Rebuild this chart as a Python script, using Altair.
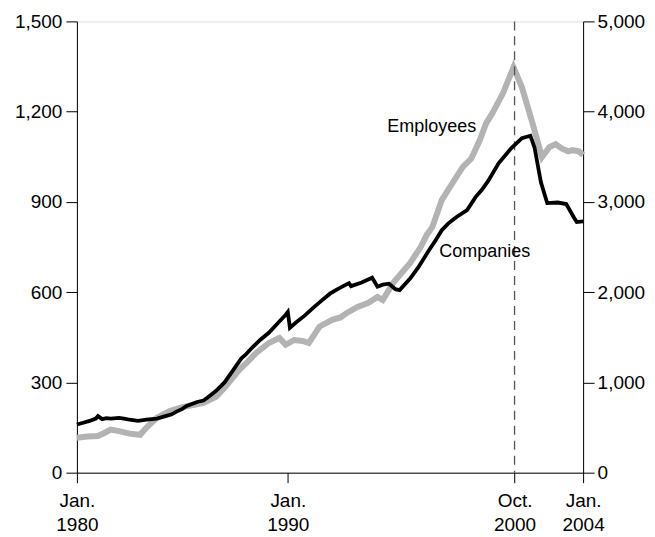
import altair as alt
import pandas as pd

# Companies (left axis, 0-1,500)
comp_year = [1980.0, 1980.3, 1980.6, 1980.9, 1981.0, 1981.2, 1981.4, 1981.6, 1982.0, 1982.3,
             1982.5, 1982.9, 1983.3, 1983.8, 1984.2, 1984.5, 1984.7, 1985.0, 1985.2, 1985.7,
             1986.0, 1986.2, 1986.6, 1987.0, 1987.4, 1987.8, 1988.0, 1988.3, 1988.7, 1989.1,
             1989.5, 1989.9, 1990.0, 1990.1, 1990.4, 1990.8, 1991.2, 1991.6, 1992.0, 1992.4,
             1992.9, 1993.0, 1993.5, 1994.0, 1994.25, 1994.5, 1994.8, 1995.1, 1995.3, 1995.8,
             1996.2, 1996.7, 1997.0, 1997.3, 1997.6, 1998.0, 1998.5, 1998.9, 1999.2, 1999.5,
             2000.0, 2000.6, 2001.1, 2001.5, 2001.7, 2002.0, 2002.3, 2002.8, 2003.2, 2003.55,
             2003.7, 2004.0]
comp_val = [160, 166, 172, 180, 188, 178, 181, 180, 182, 179,
            176, 172, 176, 180, 188, 194, 202, 212, 222, 235,
            240, 250, 272, 300, 340, 380, 392, 415, 442, 465,
            495, 525, 534, 482, 500, 522, 548, 572, 595, 612,
            630, 620, 632, 648, 618, 625, 628, 610, 607, 645,
            684, 740, 772, 806, 828, 850, 873, 916, 940, 970,
            1029, 1079, 1112, 1120, 1080, 965, 896, 898, 893, 850,
            833, 835]

# Employees (right axis, 0-5,000)
emp_year = [1980.0, 1980.5, 1981.0, 1981.3, 1981.6, 1982.0, 1982.5, 1983.0, 1983.3, 1983.8,
            1984.4, 1985.0, 1985.5, 1986.0, 1986.6, 1987.0, 1987.7, 1988.1, 1988.5, 1989.1,
            1989.6, 1989.9, 1990.3, 1990.7, 1991.0, 1991.5, 1992.1, 1992.5, 1992.8, 1993.3,
            1993.8, 1994.25, 1994.5, 1995.0, 1995.8, 1996.3, 1996.6, 1996.85, 1997.3, 1997.8,
            1998.3, 1998.7, 1999.1, 1999.4, 1999.7, 2000.2, 2000.7, 2001.1, 2001.6, 2002.05,
            2002.4, 2002.7, 2003.0, 2003.3, 2003.5, 2003.8, 2004.0]
emp_val = [387, 400, 407, 440, 477, 460, 433, 420, 500, 610,
           683, 727, 750, 773, 840, 940, 1140, 1230, 1327, 1437,
           1493, 1417, 1470, 1460, 1437, 1617, 1693, 1720, 1770, 1837,
           1880, 1947, 1913, 2103, 2323, 2500, 2640, 2720, 3020, 3207,
           3387, 3480, 3683, 3870, 3983, 4203, 4490, 4270, 3873, 3497,
           3607, 3640, 3590, 3560, 3573, 3560, 3520]

tick_values = [1980, 1990, 2000.75, 2004]
tick_labels = [["Jan.", "1980"], ["Jan.", "1990"], ["Oct.", "2000"], ["Jan.", "2004"]]

left_ticks = [0, 300, 600, 900, 1200, 1500]
right_ticks = [0, 1000, 2000, 3000, 4000, 5000]

label_names = ["Employees", "Companies"]
label_year = [1994.72, 1997.18]
label_val = [1150, 735]

marker_year = [2000.75]

FONT = "Liberation Sans"
AXIS_FS = 19

comp_df = pd.DataFrame({"year": comp_year, "value": comp_val})
emp_df = pd.DataFrame({"year": emp_year, "value": emp_val})
lab_df = pd.DataFrame({"year": label_year, "value": label_val, "label": label_names})
mark_df = pd.DataFrame({"year": marker_year})

expr = ""
for v, lab in zip(tick_values, tick_labels):
    expr += f"datum.value == {v} ? ['{lab[0]}', '{lab[1]}'] : "
expr += "''"

x_axis = alt.Axis(values=tick_values, labelExpr=expr, title=None, grid=False,
                  tickSize=10, labelPadding=9, labelFontSize=AXIS_FS, labelFont=FONT,
                  labelColor="black", domainColor="black", tickColor="black",
                  labelOverlap=False, labelFlush=False, labelLineHeight=24)
x_enc = alt.X("year:Q", scale=alt.Scale(domain=[1980, 2004], nice=False, zero=False), axis=x_axis)

left_axis = alt.Axis(orient="left", values=left_ticks, format=",d", title=None, grid=False,
                     tickSize=11, labelPadding=4, labelFontSize=AXIS_FS, labelFont=FONT,
                     labelColor="black", domainColor="black", tickColor="black",
                     minExtent=64, maxExtent=64)
right_axis = alt.Axis(orient="right", values=right_ticks, format=",d", title=None, grid=False,
                      tickSize=11, labelPadding=3, labelFontSize=AXIS_FS, labelFont=FONT,
                      labelColor="black", domainColor="black", tickColor="black")

y_left = alt.Y("value:Q", scale=alt.Scale(domain=[0, 1500], nice=False), axis=left_axis)
y_right = alt.Y("value:Q", scale=alt.Scale(domain=[0, 5000], nice=False), axis=right_axis)

emp_line = alt.Chart(emp_df).mark_line(color="#b3b3b3", strokeWidth=6).encode(x=x_enc, y=y_right)

comp_line = alt.Chart(comp_df).mark_line(color="black", strokeWidth=3.8).encode(x=x_enc, y=y_left)
labels = alt.Chart(lab_df).mark_text(align="left", baseline="middle", fontSize=18, font=FONT,
                                     color="black").encode(x=x_enc, y=y_left, text="label:N")
rule = alt.Chart(mark_df).mark_rule(color="#555555", strokeDash=[9, 6], strokeWidth=1.3).encode(x=x_enc)

inner = alt.layer(rule, comp_line, labels)

chart = alt.layer(emp_line, inner).resolve_scale(y="independent").properties(
    width=507, height=452,
    padding={"left": 5, "top": 4, "right": 2, "bottom": 0}
).configure_view(stroke=None).configure(background="white")

chart.save("out.html", embed_options={"renderer": "svg", "actions": False})
